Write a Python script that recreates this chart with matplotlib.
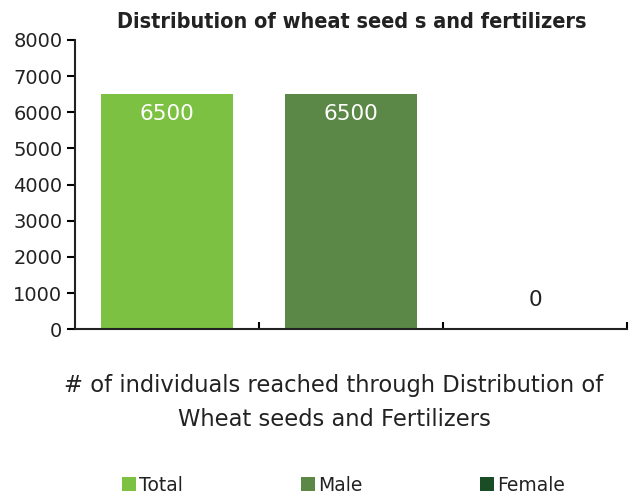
import numpy as np
import matplotlib.pyplot as plt

series = ['Total', 'Male', 'Female']
values = [6500, 6500, 0]
colors = ['#7CC142', '#5C8847', '#1A4D25']
yticks = [0, 1000, 2000, 3000, 4000, 5000, 6000, 7000, 8000]
title = 'Distribution of wheat seed s and fertilizers'
xlabel = '# of individuals reached through Distribution of\nWheat seeds and Fertilizers'

plt.rcParams['font.family'] = ['DejaVu Sans']

fig = plt.figure(figsize=(6.4, 4.98), dpi=100)
ax = fig.add_axes([0.117, 0.339, 0.863, 0.581])

x = np.arange(len(series))
bars = ax.bar(x, values, width=0.72, color=colors, label=series)

for xi, v in zip(x, values):
    if v > 0:
        ax.text(xi, v - 550, str(v), ha='center', va='center', color='white', fontsize=15.5)
    else:
        ax.text(xi, v + 800, str(v), ha='center', va='center', color='#222222', fontsize=15.5)

ax.set_xlim(-0.5, len(series) - 0.5)
ax.set_ylim(0, 8000)
ax.set_yticks(yticks)
ax.set_yticklabels([str(t) for t in yticks], fontsize=14, color='#222222')
ax.set_xticks([0.5, 1.5, 2.5])
ax.set_xticklabels([])
ax.tick_params(axis='x', direction='in', length=5, width=1.5)
ax.tick_params(axis='y', direction='out', length=6, width=1.5, pad=3)
for s in ['top', 'right']:
    ax.spines[s].set_visible(False)
for s in ['left', 'bottom']:
    ax.spines[s].set_linewidth(1.5)
    ax.spines[s].set_color('#222222')

# axis title, placed where the original has it (a bit left of the axes centre)
fig.text(0.522, 0.191, xlabel, ha='center', va='center', fontsize=16.3,
         linespacing=1.6, color='#222222')
fig.text(0.55, 0.955, title, ha='center', va='center', fontsize=15.5,
         fontweight='bold', fontstretch='condensed', color='#222222')

fig.legend(bars, series, loc='lower center', bbox_to_anchor=(0.537, -0.027), ncol=3,
           frameon=False, fontsize=13.5, handlelength=0.75, handleheight=0.75,
           handletextpad=0.15, columnspacing=6.3, labelcolor='#222222')

fig.savefig('out.png', dpi=100)
